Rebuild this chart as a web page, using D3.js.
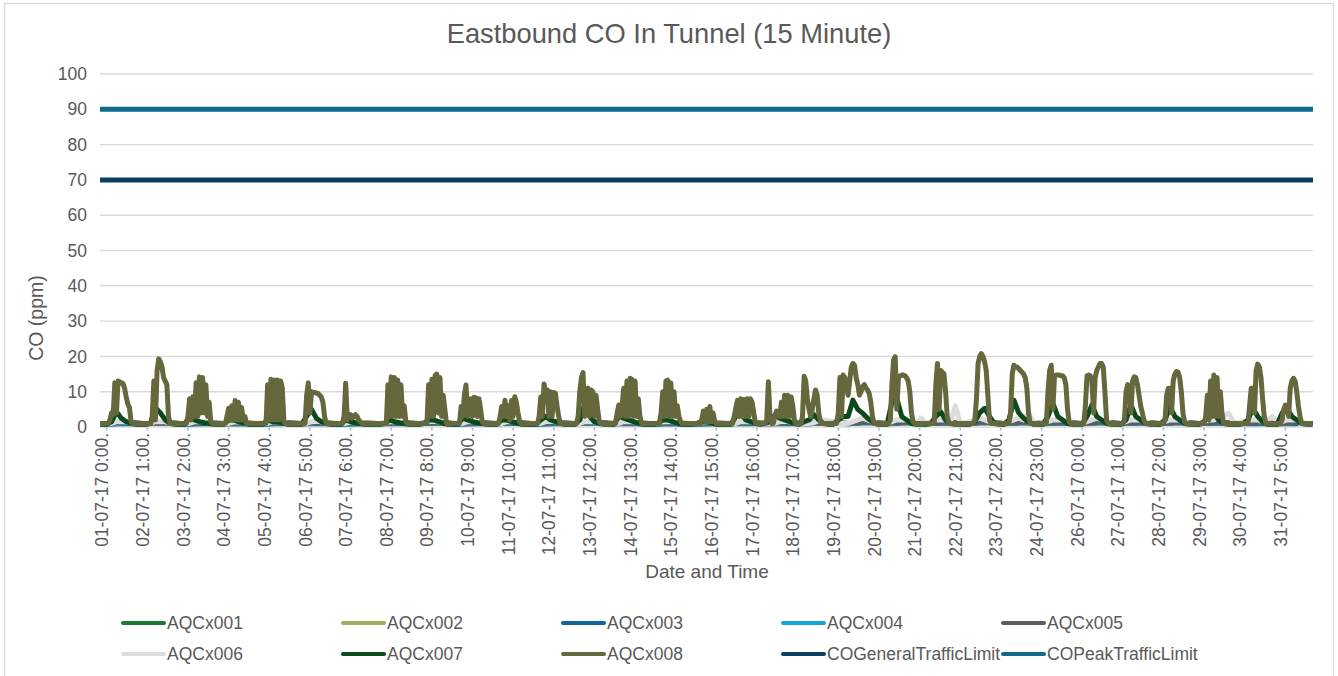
<!DOCTYPE html>
<html>
<head>
<meta charset="utf-8">
<script src="https://cdn.jsdelivr.net/npm/d3@7"></script>
<style>
  body { margin: 0; background: #fff; }
  svg { display: block; font-family: "Liberation Sans", Arial, sans-serif; }
</style>
</head>
<body>
<svg id="chart" width="1338" height="676"></svg>
<script>
// ---------------- DATA ----------------
const chartTitle = "Eastbound CO In Tunnel (15 Minute)";
const xTitle = "Date and Time";
const yTitle = "CO (ppm)";
const yTicks = [0, 10, 20, 30, 40, 50, 60, 70, 80, 90, 100];

// category labels shown on the axis (every 100th 15-minute category = 25 h)
const tickLabels = [
  "01-07-17 0:00.", "02-07-17 1:00.", "03-07-17 2:00.", "04-07-17 3:00.", "05-07-17 4:00.",
  "06-07-17 5:00.", "07-07-17 6:00.", "08-07-17 7:00.", "09-07-17 8:00.", "10-07-17 9:00.",
  "11-07-17 10:00.", "12-07-17 11:00.", "13-07-17 12:00.", "14-07-17 13:00.", "15-07-17 14:00.",
  "16-07-17 15:00.", "17-07-17 16:00.", "18-07-17 17:00.", "19-07-17 18:00.", "20-07-17 19:00.",
  "21-07-17 20:00.", "22-07-17 21:00.", "23-07-17 22:00.", "24-07-17 23:00.", "26-07-17 0:00.",
  "27-07-17 1:00.", "28-07-17 2:00.", "29-07-17 3:00.", "30-07-17 4:00.", "31-07-17 5:00."
];
// hours after 01-07-17 0:00 at which those labels sit
const tickHours = [0, 25, 50, 75, 100, 125, 150, 175, 200, 225, 250, 275, 300, 325, 350,
  375, 400, 425, 450, 475, 500, 525, 550, 575, 600, 625, 650, 675, 700, 725];

const seriesNames = ["AQCx001", "AQCx002", "AQCx003", "AQCx004", "AQCx005",
  "AQCx006", "AQCx007", "AQCx008", "COGeneralTrafficLimit", "COPeakTrafficLimit"];
const seriesColors = ["#1e7a32", "#a2ab5e", "#10669c", "#13a6da", "#5d5d61",
  "#dcdcdc", "#0c4a1c", "#65673d", "#0a3f5e", "#0e6b8b"];

// sensors AQCx001..005: 12-hourly readings (00:00, 12:00), first value 30-06-17 12:00
const aqcx001 = [0.9,
  0.8,1.2, 0.9,1.3, 0.8,1.1, 0.9,1.0, 0.8,1.2, 0.9,1.1, 0.8,1.0, 0.9,1.2, 0.9,1.3, 0.8,1.1,
  0.9,1.2, 0.8,1.1, 0.9,1.3, 0.9,1.2, 0.8,1.1, 0.8,1.0, 0.9,1.2, 0.9,1.1, 0.9,1.3, 1.0,1.4,
  0.9,1.3, 0.9,1.3, 0.9,1.4, 0.9,1.3, 0.9,1.3, 0.9,1.3, 0.9,1.3, 0.9,1.3, 0.9,1.3, 0.9,1.2, 0.9,1.1];
const aqcx002 = [1.0,
  0.9,1.3, 1.0,1.3, 0.9,1.2, 1.0,1.1, 0.9,1.3, 1.0,1.2, 0.9,1.0, 1.0,1.3, 1.0,1.3, 0.9,1.2,
  1.0,1.3, 0.9,1.2, 1.0,1.3, 1.0,1.3, 0.9,1.2, 0.9,1.0, 1.0,1.3, 1.0,1.2, 1.0,1.4, 1.0,1.4,
  1.0,1.4, 1.0,1.3, 1.0,1.4, 1.0,1.4, 1.0,1.3, 1.0,1.4, 1.0,1.3, 1.0,1.4, 1.0,1.3, 1.0,1.3, 1.0,1.2];
const aqcx003 = [0.9,
  0.8,1.0, 0.9,1.1, 0.8,0.9, 0.9,0.9, 0.8,1.0, 0.9,1.0, 0.8,0.9, 0.9,1.0, 0.9,1.1, 0.8,0.9,
  0.9,1.0, 0.8,0.9, 0.9,1.1, 0.9,1.0, 0.8,0.9, 0.8,0.9, 0.9,1.0, 0.9,0.9, 0.9,1.2, 0.9,1.2,
  0.9,1.2, 0.9,1.1, 0.9,1.2, 0.9,1.2, 0.9,1.1, 0.9,1.2, 0.9,1.1, 0.9,1.2, 0.9,1.1, 0.9,1.0, 0.9,0.9];
const aqcx004 = [0.9,
  0.8,1.3, 0.9,1.4, 0.8,1.3, 0.9,1.2, 0.8,1.3, 0.9,1.3, 0.8,1.1, 0.9,1.3, 0.9,1.4, 0.8,1.3,
  0.9,1.3, 0.8,1.3, 0.9,1.4, 0.9,1.3, 0.8,1.3, 0.8,1.1, 0.9,1.3, 0.9,1.3, 0.9,1.4, 0.9,1.4,
  0.9,1.4, 0.9,1.4, 0.9,1.4, 0.9,1.4, 0.9,1.4, 0.9,1.4, 0.9,1.4, 0.9,1.4, 0.9,1.4, 0.9,1.3, 0.9,1.3];
const aqcx005 = [1.0,
  1.0,1.4, 0.9,1.3, 0.9,1.3, 1.0,1.2, 0.9,1.3, 1.0,1.3, 0.9,1.2, 1.0,1.3, 1.0,1.4, 0.9,1.3,
  1.0,1.3, 0.9,1.3, 1.0,1.4, 1.0,1.3, 0.9,1.3, 0.9,1.2, 1.0,1.3, 1.0,1.3, 1.0,1.4, 1.0,1.4,
  1.0,1.4, 1.0,1.4, 1.0,1.4, 1.0,1.4, 1.0,1.4, 1.0,1.4, 1.0,1.4, 1.0,1.4, 1.0,1.4, 1.0,1.3, 1.0,1.3];

// AQCx006: 3-hourly readings (0,3,6,...,21 h), first value 30-06-17 21:00
const aqcx006 = [1,
  1,1,1.5,1.5,1.5,1,1,1,  1,1,1.5,1.5,1.5,1,1,1,  1,1,1.5,1.5,1.5,1,1,1,  1,1,1.4,1.5,1.4,1,1,1,
  1,1,1.5,1.5,1.5,1,1,1,  1,1,1.5,1.6,1.5,1,1,1,  1,1,1.4,1.5,1.4,1,1,1,  1,1,1.5,1.5,1.5,1,1,1,
  1,1,1.5,1.6,1.5,1,1,1,  1,1,1.5,1.5,1.5,1,1,1,  1,1,1.5,1.5,1.5,1,1,1,  1,1,1.5,1.6,1.5,1,1,1,
  1,1,1.5,1.5,1.5,1,1,1,  1,1,1.5,1.5,1.5,1,1,1,  1,1,1.5,1.5,1.5,1,1,1,  1,1,1.4,1.5,1.4,1,1,1,
  1,1,1.5,1.5,1.5,1,1,1,  1,1,1.5,1.6,1.5,1,1,1,  1,1.2,1.8,2,1.8,1.2,1,1,
  1,1.5,2,2.5,2,1.5,1,1,  1,1.5,2,2,2,1.5,1,2.5,  1,1.5,2,2,2,1.5,6,1.2,
  1,1.5,2,2.5,2,1.5,1,1,  1,1.5,2,2.5,2,4,1.5,1,  1,1.5,2,2,2,1.5,1,1,
  1,1.5,2,2.5,2,1.5,1,1,  1,1.5,2,2,2,1.5,1,1,    1,1.5,2,2,2,1.5,1,1,
  1,1.5,2,2,2.5,3,3.9,1.5,  1,1.5,2,2,2,1.5,2,3,  1.5,1.5,2,2,2,1.5,1,1];

// AQCx007: 3-hourly readings (0,3,6,...,21 h), first value 30-06-17 21:00
const aqcx007 = [0.8,
  0.8,1.5,4.3,2.5,1.5,1,0.8,0.8,   0.8,1,5.5,4,2,1,0.8,0.8,       0.8,3,2,1.5,1.2,1,0.8,0.8,
  0.8,2,2,1.5,1.2,0.8,0.8,0.8,     0.8,2,1.5,1.5,1.2,0.8,0.8,0.8, 0.8,3,5,2.5,1.5,1,0.8,0.8,
  0.8,2,1.5,1.2,1,0.8,0.8,0.8,     0.8,1,2,1.5,1.2,1,0.8,0.8,     0.8,1,2,2,1.5,1,0.8,0.8,
  0.8,2.5,2,1.5,1.2,1,0.8,0.8,     0.8,2,2,1.5,1.2,0.8,0.8,0.8,   0.8,2,3,2,1.5,1,0.8,0.8,
  0.8,2,6.5,3,1.5,1,0.8,0.8,       0.8,3,2.5,2,1.5,1,0.8,0.8,     0.8,1,2,2,1.5,1,0.8,0.8,
  0.8,1,1.5,1.5,1.2,0.8,0.8,0.8,   0.8,3,4,2,1.5,1,0.8,1,         1.5,3.4,2.5,2,1.5,1,0.8,1.5,
  2,3.5,2,1,0.8,0.8,2,3,           3,7.6,5,3.9,2.5,1.5,0.8,0.8,   0.8,7,8.1,3,2,1,0.8,0.8,
  0.8,1,3,4.3,2,1,0.8,0.8,         0.8,0.8,1.5,4,5.3,3,1,0.8,     0.8,2,7.6,4,2.5,1.5,0.8,0.8,
  0.8,3,6.7,3,2,1,0.8,0.8,         0.8,3,6.2,3,2,1,0.8,0.8,       0.8,2,6.2,3,2,1,0.8,0.8,
  0.8,2,5.8,3,2,1,0.8,0.8,         0.8,1.5,3,3.9,2,1,0.8,0.8,     0.8,1,2,5.3,3,1.5,0.8,0.8,
  0.8,4,5.3,3,2,1,0.8,0.8];

// AQCx008: hourly readings, first value 30-06-17 20:00, then one row per day (0..23 h)
const aqcx008 = [
  1,1,1,1,
  1,1,2,4,3.5,12.5,4,13,12.8,12.5,12.3,11,8.5,6.5,5.5,1.5,1,1,1,1,1,1,1,1,
  1,1,1,1,3,13,2,16,19.3,18.5,17,14,13,12,3,1,1,1,1,1,1,1,1,1,
  1,1,3,8,2,8.6,3,12.5,3,14.2,4,14,4,12,3,7,1.5,1,1,1,1,1,1,1,
  1,1,3,5.3,2,6,2,7.5,2,7,2,5.5,2,3,1,1,1,1,1,1,1,1,1,1,
  1,1,1,12,2,13.5,2,13.3,2,13.3,2,13,11,1.5,1,1,1,1,1,1,1,1,1,1,
  1,1,1,9,12.5,4,10,9.8,9.8,9.6,9.5,9,8.5,7,3,1,1,1,1,1,1,1,1,1,
  1,1,3,12.4,2,3,3.5,2.5,3,3.5,3,2,1.5,1,1,1,1,1,1,1,1,1,1,1,
  1,1,1,1,1,12,3,14.2,3,14,3,13.3,3,12,3,6,1.5,1,1,1,1,1,1,1,
  1,1,1,1,1,1,12,3,13.5,3,14.5,15,4,14,3,9,5,1,1,1,1,1,1,1,
  1,1,5.8,3,9,11.9,3,6,8,3,8.4,8.3,3,8,5,1.5,1,1,1,1,1,1,1,1,
  1,1,3,5.8,3,7.6,3,6,2,7.5,3,8.6,7,4,1.5,1,1,1,1,1,1,1,1,1,
  1,1,3,8.5,3,12.2,9,10.5,3,10,3,9.8,9.5,6,3,1,1,1,1,1,1,1,1,1,
  1,1,3,10,14,15.4,3,10.5,11,3,10.5,10,3,9,5,1.5,1,1,1,1,1,1,1,1,
  1,1,4,6.2,3,6,11,3,13,3,13.8,13.5,3,13,3,8,3,1,1,1,1,1,1,1,
  1,1,1,1,1,4,10,3,13,13.3,3,12.5,3,10,3,6,3,1.5,1,1,1,1,1,1,
  1,1,1,1,1,1,2,4.5,1.5,5,1.5,5.8,1.5,4,1.5,1,1,1,1,1,1,1,1,1,
  1,1,3,5.5,7.6,3,8,3,7.8,3,8,3,8,7,4,1.2,1,1,1,1,1,1,2,12.8,
  3,1,1,3,4.5,4,3,7,3,9,3,9,3,8.5,6,2,1,1,1,1,3,14.4,13,8,
  5,3,5,8,10.5,9,4,1.5,1,1,1,1,1,1,1,1,1,1,4,14,3,14.7,14,12,
  9,13,17,18,17.5,14,12,9,10,11.5,12,11,10.5,9.5,7,3,1,1,1,1,1,1,1,1,
  1,1,2,12,19,19.9,5,14,14.5,14.7,14.7,14.5,14,13,10,4,1.5,1,1,1,1,1,1,1,
  1,1,1,1,1,1,12,18,5,16,15.5,15,10,3,1,1,1,1,1,1,1,1,1,1,
  1,1,1,1,1,1,2,8,18,20,20.8,20,18.5,16,9,2,1,1,1,1,1,1,1,1,
  1,1,1,1,4,15,17.5,17,17,16.5,16,15.5,15,14,11,4,1,1,1,1,1,1,1,1,
  1,1,1,10,16,17.5,5,14.5,14.7,14.7,14.7,14.5,14.5,14,12,5,1.5,1,1,1,1,1,1,1,
  1,1,6,14.5,14.7,14.5,13,4,14,16,17,18,18,17,10,2,1,1,1,1,1,1,1,1,
  1,1,2,10,12,11.5,4,13,14.2,14,12,9,6,4,2,1,1,1,1,1,1,1,1,1,
  1,1,1,2,9,11,11,4,13,15,15.7,15.5,14,10,4,1.5,1,1,1,1,1,1,1,1,
  1,1,1,1,3,9,2,13,3,14.7,3,14,3,10,4,1,1,1,1,1,1,1,1,1,
  1,1,1,1,1,1,1,6,11,11,4,16,17.8,17,14,8,3,1,1,1,1,1,1,1,
  1,1,1,2,5,6.2,6,3,11,13,13.8,13,10,6,3,1,1,1,1,1,1,1,1,1
];

const generalLimit = [70, 70];
const peakLimit = [90, 90];

// ---------------- CHART ----------------
const svg = d3.select("#chart");
const m = { left: 100, right: 1313, top: 74, bottom: 427 };
const textColor = "#595959";

const x = d3.scaleLinear().domain([-4.12, 742.0]).range([m.left, m.right]);
const y = d3.scaleLinear().domain([0, 100]).range([m.bottom, m.top]);

// outer border
svg.append("rect").attr("x", 4.5).attr("y", 3.5).attr("width", 1329).attr("height", 690)
  .attr("fill", "#fff").attr("stroke", "#d9d9d9").attr("stroke-width", 1.3);

// title
svg.append("text").attr("x", 669).attr("y", 43).attr("text-anchor", "middle")
  .attr("font-size", 27.3).attr("fill", textColor).text(chartTitle);

// gridlines
svg.append("g").selectAll("line").data(yTicks).join("line")
  .attr("x1", m.left).attr("x2", m.right)
  .attr("y1", d => y(d)).attr("y2", d => y(d))
  .attr("stroke", "#d9d9d9").attr("stroke-width", 1.4);

// y axis labels
svg.append("g").selectAll("text").data(yTicks).join("text")
  .attr("x", 87).attr("y", d => y(d)).attr("dy", "0.35em")
  .attr("text-anchor", "end").attr("font-size", 17.5).attr("fill", textColor)
  .text(d => d);

// y title
svg.append("text").attr("transform", "translate(36,318) rotate(-90)")
  .attr("text-anchor", "middle").attr("dy", "0.35em")
  .attr("font-size", 19.5).attr("fill", textColor).text(yTitle);

// plot clip
svg.append("defs").append("clipPath").attr("id", "plotClip")
  .append("rect").attr("x", m.left).attr("y", 50).attr("width", m.right - m.left).attr("height", 385);

const plot = svg.append("g").attr("clip-path", "url(#plotClip)");
const line = d3.line().x(d => x(d.h)).y(d => y(d.v));

const sensorSeries = [
  { values: aqcx001, start: -12, step: 12 },
  { values: aqcx002, start: -12, step: 12 },
  { values: aqcx003, start: -12, step: 12 },
  { values: aqcx004, start: -12, step: 12 },
  { values: aqcx005, start: -12, step: 12 },
  { values: aqcx006, start: -3, step: 3 },
  { values: aqcx007, start: -3, step: 3 },
  { values: aqcx008, start: -4, step: 1 }
];
sensorSeries.forEach((s, i) => {
  const pts = s.values.map((v, j) => ({ h: s.start + j * s.step, v }));
  plot.append("path").datum(pts).attr("d", line)
    .attr("fill", "none").attr("stroke", seriesColors[i])
    .attr("stroke-width", 5).attr("stroke-linejoin", "round").attr("stroke-linecap", "round");
});

[generalLimit, peakLimit].forEach((arr, k) => {
  const dom = x.domain();
  const pts = arr.map((v, j) => ({ h: dom[0] + j * (dom[1] - dom[0]), v }));
  plot.append("path").datum(pts).attr("d", line)
    .attr("fill", "none").attr("stroke", seriesColors[8 + k]).attr("stroke-width", 5);
});

// x ticks
svg.append("g").selectAll("line").data(tickHours).join("line")
  .attr("x1", d => x(d)).attr("x2", d => x(d))
  .attr("y1", 428).attr("y2", 431)
  .attr("stroke", "#8a9bb5").attr("stroke-width", 1.5).attr("stroke-dasharray", "1.5,1");

// x labels
svg.append("g").selectAll("text").data(tickHours).join("text")
  .attr("transform", d => `translate(${x(d) - 4.5},433) rotate(-90)`)
  .attr("dy", "0.35em").attr("text-anchor", "end")
  .attr("font-size", 17.5).attr("fill", textColor)
  .text((d, i) => tickLabels[i]);

// x title
svg.append("text").attr("x", 707).attr("y", 578).attr("text-anchor", "middle")
  .attr("font-size", 19).attr("fill", textColor).text(xTitle);

// legend
const legend = svg.append("g");
seriesNames.forEach((name, i) => {
  const col = i % 5, row = Math.floor(i / 5);
  const lx = 123 + col * 220, ly = 623 + row * 31;
  legend.append("line").attr("x1", lx).attr("x2", lx + 41).attr("y1", ly).attr("y2", ly)
    .attr("stroke", seriesColors[i]).attr("stroke-width", 4).attr("stroke-linecap", "round");
  legend.append("text").attr("x", lx + 44).attr("y", ly).attr("dy", "0.35em")
    .attr("font-size", 17.5).attr("fill", textColor).text(name);
});
</script>
</body>
</html>
